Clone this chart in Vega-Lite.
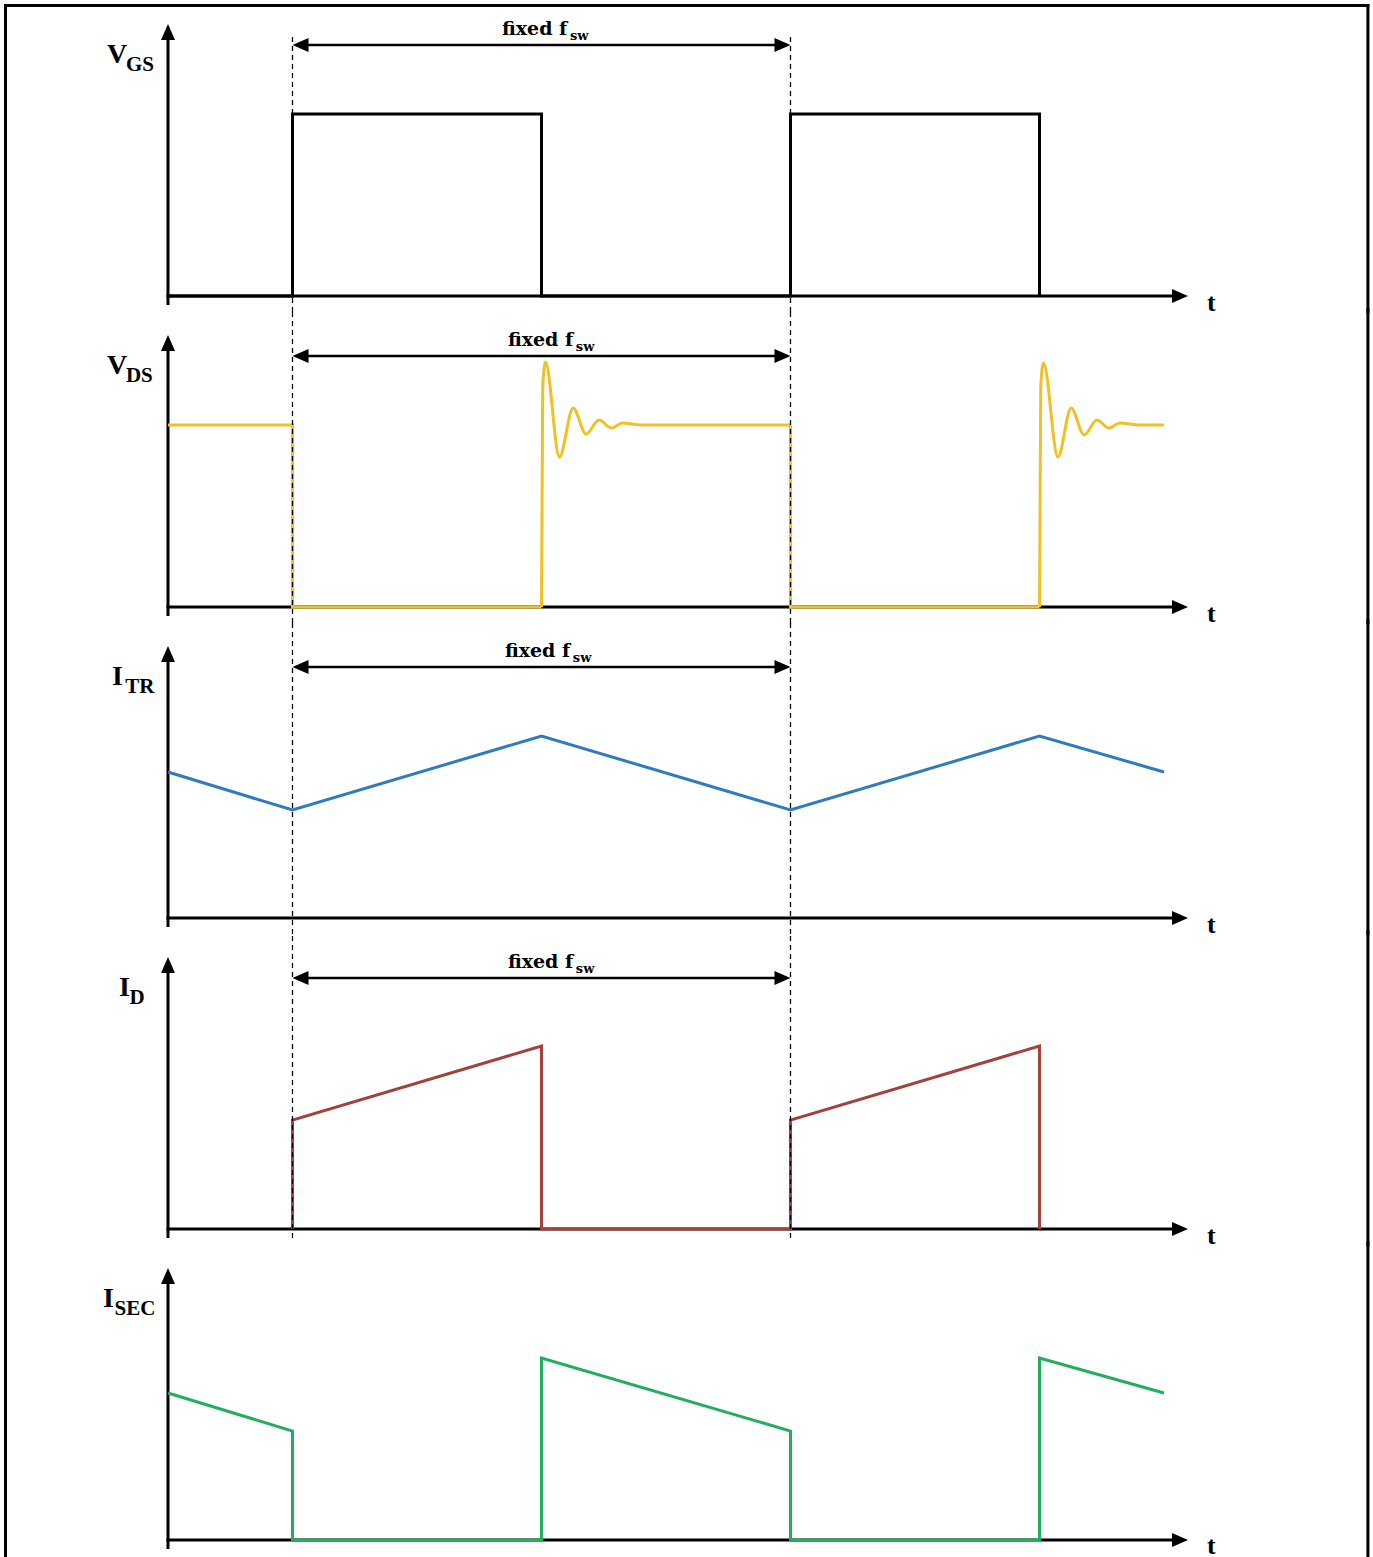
{
  "$schema": "https://vega.github.io/schema/vega-lite/v6.json",
  "padding": 0,
  "autosize": {"type": "pad"},
  "bounds": "flush",
  "background": "white",
  "config": {"view": {"stroke": null}},
  "data": {"values": [
    {"k":"fv","panel":1,"t":-0.6526,"y":-0.16,"y2":2.905},
    {"k":"fv","panel":1,"t":4.819,"y":-0.16,"y2":2.905},
    {"k":"fv","panel":2,"t":-0.6526,"y":-0.16,"y2":2.975},
    {"k":"fv","panel":2,"t":4.819,"y":-0.16,"y2":2.975},
    {"k":"fv","panel":3,"t":-0.6526,"y":-0.16,"y2":2.975},
    {"k":"fv","panel":3,"t":4.819,"y":-0.16,"y2":2.975},
    {"k":"fv","panel":4,"t":-0.6526,"y":-0.16,"y2":2.975},
    {"k":"fv","panel":4,"t":4.819,"y":-0.16,"y2":2.975},
    {"k":"fv","panel":5,"t":-0.6526,"y":-0.16,"y2":2.975},
    {"k":"fv","panel":5,"t":4.819,"y":-0.16,"y2":2.975},
    {"k":"fh","panel":1,"t":-0.6526,"t2":4.819,"y":2.905},

    {"k":"ya","panel":1,"t":0,"y":-0.09,"y2":2.6},
    {"k":"ya","panel":2,"t":0,"y":-0.09,"y2":2.6},
    {"k":"ya","panel":3,"t":0,"y":-0.09,"y2":2.6},
    {"k":"ya","panel":4,"t":0,"y":-0.09,"y2":2.6},
    {"k":"ya","panel":5,"t":0,"y":-0.09,"y2":2.6},
    {"k":"xa","panel":1,"t":-0.006,"t2":4.05,"y":0},
    {"k":"xa","panel":2,"t":-0.006,"t2":4.05,"y":0},
    {"k":"xa","panel":3,"t":-0.006,"t2":4.05,"y":0},
    {"k":"xa","panel":4,"t":-0.006,"t2":4.05,"y":0},
    {"k":"xa","panel":5,"t":-0.006,"t2":4.05,"y":0},
    {"k":"ua","panel":1,"t":0,"y":2.72},
    {"k":"ua","panel":2,"t":0,"y":2.72},
    {"k":"ua","panel":3,"t":0,"y":2.72},
    {"k":"ua","panel":4,"t":0,"y":2.72},
    {"k":"ua","panel":5,"t":0,"y":2.72},
    {"k":"ra","panel":1,"t":4.0964,"y":0},
    {"k":"ra","panel":2,"t":4.0964,"y":0},
    {"k":"ra","panel":3,"t":4.0964,"y":0},
    {"k":"ra","panel":4,"t":4.0964,"y":0},
    {"k":"ra","panel":5,"t":4.0964,"y":0},
    {"k":"ra","panel":1,"t":2.5,"y":2.51},
    {"k":"ra","panel":2,"t":2.5,"y":2.51},
    {"k":"ra","panel":3,"t":2.5,"y":2.51},
    {"k":"ra","panel":4,"t":2.5,"y":2.51},
    {"k":"la","panel":1,"t":0.5,"y":2.51},
    {"k":"la","panel":2,"t":0.5,"y":2.51},
    {"k":"la","panel":3,"t":0.5,"y":2.51},
    {"k":"la","panel":4,"t":0.5,"y":2.51},
    {"k":"fr","panel":1,"t":0.52,"t2":2.48,"y":2.51},
    {"k":"fr","panel":2,"t":0.52,"t2":2.48,"y":2.51},
    {"k":"fr","panel":3,"t":0.52,"t2":2.48,"y":2.51},
    {"k":"fr","panel":4,"t":0.52,"t2":2.48,"y":2.51},

    {"k":"lab","panel":1,"t":-0.245,"y":2.33,"txt":"V"},
    {"k":"sub","panel":1,"t":-0.169,"y":2.255,"txt":"GS"},
    {"k":"lab","panel":2,"t":-0.245,"y":2.33,"txt":"V"},
    {"k":"sub","panel":2,"t":-0.169,"y":2.255,"txt":"DS"},
    {"k":"lab","panel":3,"t":-0.225,"y":2.33,"txt":"I"},
    {"k":"sub","panel":3,"t":-0.172,"y":2.255,"txt":"TR"},
    {"k":"lab","panel":4,"t":-0.197,"y":2.33,"txt":"I"},
    {"k":"sub","panel":4,"t":-0.155,"y":2.255,"txt":"D"},
    {"k":"lab","panel":5,"t":-0.261,"y":2.33,"txt":"I"},
    {"k":"sub","panel":5,"t":-0.215,"y":2.255,"txt":"SEC"},
    {"k":"fx","panel":1,"t":1.341,"y":2.615,"txt":"fixed f"},
    {"k":"fxs","panel":1,"t":1.614,"y":2.56,"txt":"sw"},
    {"k":"fx","panel":2,"t":1.365,"y":2.615,"txt":"fixed f"},
    {"k":"fxs","panel":2,"t":1.638,"y":2.56,"txt":"sw"},
    {"k":"fx","panel":3,"t":1.353,"y":2.615,"txt":"fixed f"},
    {"k":"fxs","panel":3,"t":1.626,"y":2.56,"txt":"sw"},
    {"k":"fx","panel":4,"t":1.365,"y":2.615,"txt":"fixed f"},
    {"k":"fxs","panel":4,"t":1.638,"y":2.56,"txt":"sw"},
    {"k":"tl","panel":1,"t":4.173,"y":-0.15,"txt":"t"},
    {"k":"tl","panel":2,"t":4.173,"y":-0.15,"txt":"t"},
    {"k":"tl","panel":3,"t":4.173,"y":-0.15,"txt":"t"},
    {"k":"tl","panel":4,"t":4.173,"y":-0.15,"txt":"t"},
    {"k":"tl","panel":5,"t":4.173,"y":-0.135,"txt":"t"},

    {"k":"sig","panel":1,"s":"vgs","seg":"g1","i":1,"t":0,"y":0},
    {"k":"sig","panel":1,"s":"vgs","seg":"g1","i":2,"t":0.5,"y":0},
    {"k":"sig","panel":1,"s":"vgs","seg":"g1","i":3,"t":0.5,"y":1.82},
    {"k":"sig","panel":1,"s":"vgs","seg":"g1","i":4,"t":1.5,"y":1.82},
    {"k":"sig","panel":1,"s":"vgs","seg":"g1","i":5,"t":1.5,"y":0},
    {"k":"sig","panel":1,"s":"vgs","seg":"g1","i":6,"t":2.5,"y":0},
    {"k":"sig","panel":1,"s":"vgs","seg":"g1","i":7,"t":2.5,"y":1.82},
    {"k":"sig","panel":1,"s":"vgs","seg":"g1","i":8,"t":3.5,"y":1.82},
    {"k":"sig","panel":1,"s":"vgs","seg":"g1","i":9,"t":3.5,"y":0},

    {"k":"sig","panel":2,"s":"vds","seg":"d1","i":1,"t":0,"y":1.82},
    {"k":"sig","panel":2,"s":"vds","seg":"d1","i":2,"t":0.5,"y":1.82},
    {"k":"sig","panel":2,"s":"vds","seg":"d1","i":3,"t":0.5,"y":0},
    {"k":"sig","panel":2,"s":"vds","seg":"d1","i":4,"t":1.5,"y":0},
    {"k":"sig","panel":2,"s":"vds","seg":"d2","i":1,"t":2.5,"y":1.82},
    {"k":"sig","panel":2,"s":"vds","seg":"d2","i":2,"t":2.5,"y":0},
    {"k":"sig","panel":2,"s":"vds","seg":"d2","i":3,"t":3.5,"y":0},

    {"k":"ring","panel":2,"s":"vds","seg":"r1","i":1,"t":1.5,"y":0},
    {"k":"ring","panel":2,"s":"vds","seg":"r1","i":2,"t":1.505,"y":2.2},
    {"k":"ring","panel":2,"s":"vds","seg":"r1","i":3,"t":1.516,"y":2.45},
    {"k":"ring","panel":2,"s":"vds","seg":"r1","i":4,"t":1.572,"y":1.5},
    {"k":"ring","panel":2,"s":"vds","seg":"r1","i":5,"t":1.627,"y":1.99},
    {"k":"ring","panel":2,"s":"vds","seg":"r1","i":6,"t":1.679,"y":1.73},
    {"k":"ring","panel":2,"s":"vds","seg":"r1","i":7,"t":1.731,"y":1.87},
    {"k":"ring","panel":2,"s":"vds","seg":"r1","i":8,"t":1.781,"y":1.79},
    {"k":"ring","panel":2,"s":"vds","seg":"r1","i":9,"t":1.825,"y":1.84},
    {"k":"ring","panel":2,"s":"vds","seg":"r1","i":10,"t":1.9,"y":1.82},
    {"k":"ring","panel":2,"s":"vds","seg":"r1","i":11,"t":2.5,"y":1.82},
    {"k":"ring","panel":2,"s":"vds","seg":"r2","i":1,"t":3.5,"y":0},
    {"k":"ring","panel":2,"s":"vds","seg":"r2","i":2,"t":3.505,"y":2.2},
    {"k":"ring","panel":2,"s":"vds","seg":"r2","i":3,"t":3.516,"y":2.44},
    {"k":"ring","panel":2,"s":"vds","seg":"r2","i":4,"t":3.574,"y":1.5},
    {"k":"ring","panel":2,"s":"vds","seg":"r2","i":5,"t":3.627,"y":1.99},
    {"k":"ring","panel":2,"s":"vds","seg":"r2","i":6,"t":3.679,"y":1.72},
    {"k":"ring","panel":2,"s":"vds","seg":"r2","i":7,"t":3.731,"y":1.87},
    {"k":"ring","panel":2,"s":"vds","seg":"r2","i":8,"t":3.779,"y":1.79},
    {"k":"ring","panel":2,"s":"vds","seg":"r2","i":9,"t":3.823,"y":1.84},
    {"k":"ring","panel":2,"s":"vds","seg":"r2","i":10,"t":3.9,"y":1.82},
    {"k":"ring","panel":2,"s":"vds","seg":"r2","i":11,"t":4.0,"y":1.82},

    {"k":"sig","panel":3,"s":"itr","seg":"t1","i":1,"t":0,"y":1.46},
    {"k":"sig","panel":3,"s":"itr","seg":"t1","i":2,"t":0.5,"y":1.08},
    {"k":"sig","panel":3,"s":"itr","seg":"t1","i":3,"t":1.5,"y":1.82},
    {"k":"sig","panel":3,"s":"itr","seg":"t1","i":4,"t":2.5,"y":1.08},
    {"k":"sig","panel":3,"s":"itr","seg":"t1","i":5,"t":3.5,"y":1.82},
    {"k":"sig","panel":3,"s":"itr","seg":"t1","i":6,"t":4.0,"y":1.46},

    {"k":"sig","panel":4,"s":"id","seg":"i1","i":1,"t":0.5,"y":0},
    {"k":"sig","panel":4,"s":"id","seg":"i1","i":2,"t":0.5,"y":1.09},
    {"k":"sig","panel":4,"s":"id","seg":"i1","i":3,"t":1.5,"y":1.83},
    {"k":"sig","panel":4,"s":"id","seg":"i1","i":4,"t":1.5,"y":0},
    {"k":"sig","panel":4,"s":"id","seg":"i1","i":5,"t":2.5,"y":0},
    {"k":"sig","panel":4,"s":"id","seg":"i1","i":6,"t":2.5,"y":1.09},
    {"k":"sig","panel":4,"s":"id","seg":"i1","i":7,"t":3.5,"y":1.83},
    {"k":"sig","panel":4,"s":"id","seg":"i1","i":8,"t":3.5,"y":0},

    {"k":"sig","panel":5,"s":"isec","seg":"s1","i":1,"t":0,"y":1.47},
    {"k":"sig","panel":5,"s":"isec","seg":"s1","i":2,"t":0.5,"y":1.09},
    {"k":"sig","panel":5,"s":"isec","seg":"s1","i":3,"t":0.5,"y":0},
    {"k":"sig","panel":5,"s":"isec","seg":"s1","i":4,"t":1.5,"y":0},
    {"k":"sig","panel":5,"s":"isec","seg":"s1","i":5,"t":1.5,"y":1.82},
    {"k":"sig","panel":5,"s":"isec","seg":"s1","i":6,"t":2.5,"y":1.09},
    {"k":"sig","panel":5,"s":"isec","seg":"s1","i":7,"t":2.5,"y":0},
    {"k":"sig","panel":5,"s":"isec","seg":"s1","i":8,"t":3.5,"y":0},
    {"k":"sig","panel":5,"s":"isec","seg":"s1","i":9,"t":3.5,"y":1.82},
    {"k":"sig","panel":5,"s":"isec","seg":"s1","i":10,"t":4.0,"y":1.47},

    {"k":"dash","panel":1,"t":0.5,"y":-0.16,"y2":2.61},
    {"k":"dash","panel":1,"t":2.5,"y":-0.16,"y2":2.61},
    {"k":"dash","panel":2,"t":0.5,"y":-0.16,"y2":2.96},
    {"k":"dash","panel":2,"t":2.5,"y":-0.16,"y2":2.96},
    {"k":"dash","panel":3,"t":0.5,"y":-0.16,"y2":2.96},
    {"k":"dash","panel":3,"t":2.5,"y":-0.16,"y2":2.96},
    {"k":"dash","panel":4,"t":0.5,"y":-0.09,"y2":2.96},
    {"k":"dash","panel":4,"t":2.5,"y":-0.09,"y2":2.96}
  ]},
  "facet": {"row": {"field": "panel", "type": "ordinal", "header": null, "title": null}},
  "spacing": 0,
  "spec": {
    "width": 1373,
    "height": 310.5,
    "encoding": {
      "x": {"field": "t", "type": "quantitative", "axis": null, "scale": {"domain": [-0.6747, 4.8394], "nice": false, "zero": false}},
      "y": {"field": "y", "type": "quantitative", "axis": null, "scale": {"domain": [-0.145, 2.96], "nice": false, "zero": false}}
    },
    "layer": [
      {"transform": [{"filter": "datum.k === 'fv'"}], "mark": {"type": "rule", "color": "black", "strokeWidth": 3, "strokeCap": "square"}, "encoding": {"y2": {"field": "y2"}}},
      {"transform": [{"filter": "datum.k === 'fh'"}], "mark": {"type": "rule", "color": "black", "strokeWidth": 3, "strokeCap": "square"}, "encoding": {"x2": {"field": "t2"}}},
      {"transform": [{"filter": "datum.k === 'ya'"}], "mark": {"type": "rule", "color": "black", "strokeWidth": 3}, "encoding": {"y2": {"field": "y2"}}},
      {"transform": [{"filter": "datum.k === 'xa'"}], "mark": {"type": "rule", "color": "black", "strokeWidth": 3}, "encoding": {"x2": {"field": "t2"}}},
      {"transform": [{"filter": "datum.k === 'fr'"}], "mark": {"type": "rule", "color": "black", "strokeWidth": 2.5}, "encoding": {"x2": {"field": "t2"}}},
      {"transform": [{"filter": "datum.k === 'ua'"}], "mark": {"type": "point", "shape": "M0,0L-0.875,2L0.875,2Z", "filled": true, "size": 256, "color": "black", "opacity": 1, "strokeWidth": 0}},
      {"transform": [{"filter": "datum.k === 'ra'"}], "mark": {"type": "point", "shape": "M0,0L-2,-0.875L-2,0.875Z", "filled": true, "size": 256, "color": "black", "opacity": 1, "strokeWidth": 0}},
      {"transform": [{"filter": "datum.k === 'la'"}], "mark": {"type": "point", "shape": "M0,0L2,-0.875L2,0.875Z", "filled": true, "size": 256, "color": "black", "opacity": 1, "strokeWidth": 0}},
      {"transform": [{"filter": "datum.k === 'sig'"}], "mark": {"type": "line", "strokeWidth": 3, "interpolate": "linear"},
        "encoding": {
          "color": {"field": "s", "type": "nominal", "legend": null, "scale": {"domain": ["vgs", "vds", "itr", "id", "isec"], "range": ["#000000", "#F0C024", "#2E7BBF", "#A2423C", "#22AE5C"]}},
          "detail": {"field": "seg"},
          "order": {"field": "i", "type": "quantitative"}
        }},
      {"transform": [{"filter": "datum.k === 'ring'"}], "mark": {"type": "line", "strokeWidth": 3, "interpolate": "monotone"},
        "encoding": {
          "color": {"field": "s", "type": "nominal", "legend": null, "scale": {"domain": ["vgs", "vds", "itr", "id", "isec"], "range": ["#000000", "#F0C024", "#2E7BBF", "#A2423C", "#22AE5C"]}},
          "detail": {"field": "seg"},
          "order": {"field": "i", "type": "quantitative"}
        }},
      {"transform": [{"filter": "datum.k === 'dash'"}], "mark": {"type": "rule", "color": "black", "strokeWidth": 1.3, "strokeDash": [5, 4]}, "encoding": {"y2": {"field": "y2"}}},
      {"transform": [{"filter": "datum.k === 'lab'"}], "mark": {"type": "text", "align": "left", "baseline": "alphabetic", "font": "Liberation Serif", "fontWeight": "bold", "fontSize": 28, "color": "black"}, "encoding": {"text": {"field": "txt"}}},
      {"transform": [{"filter": "datum.k === 'sub'"}], "mark": {"type": "text", "align": "left", "baseline": "alphabetic", "font": "Liberation Serif", "fontWeight": "bold", "fontSize": 21, "color": "black"}, "encoding": {"text": {"field": "txt"}}},
      {"transform": [{"filter": "datum.k === 'fx'"}], "mark": {"type": "text", "align": "left", "baseline": "alphabetic", "font": "DejaVu Serif", "fontWeight": "bold", "fontSize": 19, "color": "black"}, "encoding": {"text": {"field": "txt"}}},
      {"transform": [{"filter": "datum.k === 'fxs'"}], "mark": {"type": "text", "align": "left", "baseline": "alphabetic", "font": "DejaVu Serif", "fontWeight": "bold", "fontSize": 13, "color": "black"}, "encoding": {"text": {"field": "txt"}}},
      {"transform": [{"filter": "datum.k === 'tl'"}], "mark": {"type": "text", "align": "left", "baseline": "alphabetic", "font": "Liberation Serif", "fontWeight": "bold", "fontSize": 26, "color": "black"}, "encoding": {"text": {"field": "txt"}}}
    ]
  }
}
